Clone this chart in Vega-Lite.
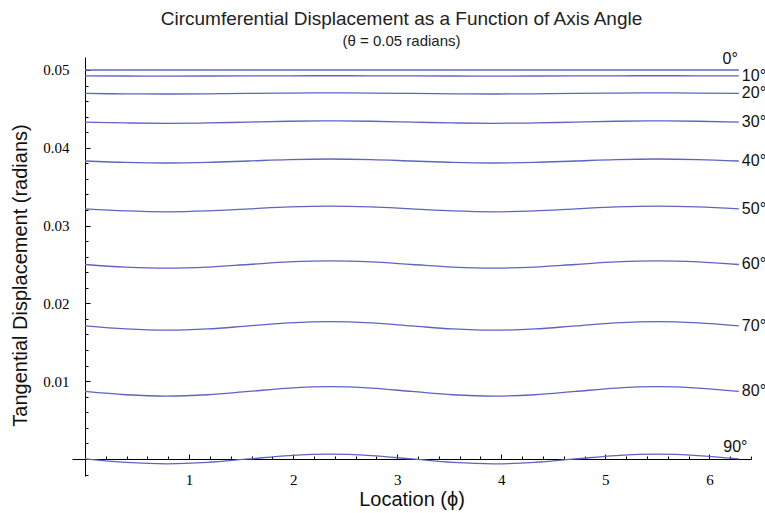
{
  "$schema": "https://vega.github.io/schema/vega-lite/v6.json",
  "width": 679,
  "height": 419,
  "autosize": {"type": "none"},
  "padding": {"left": 72, "top": 57, "right": 14, "bottom": 37},
  "background": "white",
  "title": {
    "text": "Circumferential Displacement as a Function of Axis Angle",
    "subtitle": "(θ = 0.05 radians)",
    "anchor": "middle",
    "font": "Liberation Sans",
    "fontSize": 19,
    "fontWeight": "normal",
    "color": "#222",
    "subtitleFont": "Liberation Sans",
    "subtitleFontSize": 15,
    "subtitleColor": "#222",
    "subtitlePadding": 5,
    "offset": 2,
    "dx": -10
  },
  "config": {
    "view": {"stroke": null},
    "axis": {
      "grid": false,
      "domainColor": "#000",
      "domainWidth": 1,
      "tickColor": "#000",
      "tickWidth": 1,
      "labelColor": "#000",
      "titleColor": "#111",
      "labelFont": "Liberation Serif",
      "labelFontSize": 15,
      "titleFont": "Liberation Sans",
      "titleFontSize": 20,
      "titleFontWeight": "normal"
    }
  },
  "datasets": {
    "curves": [
      {"angle": 0, "phi": 0, "d": 0.05}, {"angle": 0, "phi": 0.3927, "d": 0.05}, {"angle": 0, "phi": 0.7854, "d": 0.05}, {"angle": 0, "phi": 1.1781, "d": 0.05}, {"angle": 0, "phi": 1.5708, "d": 0.05}, {"angle": 0, "phi": 1.9635, "d": 0.05}, {"angle": 0, "phi": 2.3562, "d": 0.05}, {"angle": 0, "phi": 2.7489, "d": 0.05}, {"angle": 0, "phi": 3.1416, "d": 0.05}, {"angle": 0, "phi": 3.5343, "d": 0.05}, {"angle": 0, "phi": 3.927, "d": 0.05}, {"angle": 0, "phi": 4.3197, "d": 0.05}, {"angle": 0, "phi": 4.7124, "d": 0.05}, {"angle": 0, "phi": 5.1051, "d": 0.05}, {"angle": 0, "phi": 5.4978, "d": 0.05}, {"angle": 0, "phi": 5.8905, "d": 0.05}, {"angle": 0, "phi": 6.2832, "d": 0.05},
      {"angle": 10, "phi": 0, "d": 0.04924}, {"angle": 10, "phi": 0.3927, "d": 0.049227}, {"angle": 10, "phi": 0.7854, "d": 0.049221}, {"angle": 10, "phi": 1.1781, "d": 0.049227}, {"angle": 10, "phi": 1.5708, "d": 0.04924}, {"angle": 10, "phi": 1.9635, "d": 0.049253}, {"angle": 10, "phi": 2.3562, "d": 0.049259}, {"angle": 10, "phi": 2.7489, "d": 0.049253}, {"angle": 10, "phi": 3.1416, "d": 0.04924}, {"angle": 10, "phi": 3.5343, "d": 0.049227}, {"angle": 10, "phi": 3.927, "d": 0.049221}, {"angle": 10, "phi": 4.3197, "d": 0.049227}, {"angle": 10, "phi": 4.7124, "d": 0.04924}, {"angle": 10, "phi": 5.1051, "d": 0.049253}, {"angle": 10, "phi": 5.4978, "d": 0.049259}, {"angle": 10, "phi": 5.8905, "d": 0.049253}, {"angle": 10, "phi": 6.2832, "d": 0.04924},
      {"angle": 20, "phi": 0, "d": 0.046985}, {"angle": 20, "phi": 0.3927, "d": 0.046933}, {"angle": 20, "phi": 0.7854, "d": 0.046912}, {"angle": 20, "phi": 1.1781, "d": 0.046933}, {"angle": 20, "phi": 1.5708, "d": 0.046985}, {"angle": 20, "phi": 1.9635, "d": 0.047037}, {"angle": 20, "phi": 2.3562, "d": 0.047058}, {"angle": 20, "phi": 2.7489, "d": 0.047037}, {"angle": 20, "phi": 3.1416, "d": 0.046985}, {"angle": 20, "phi": 3.5343, "d": 0.046933}, {"angle": 20, "phi": 3.927, "d": 0.046912}, {"angle": 20, "phi": 4.3197, "d": 0.046933}, {"angle": 20, "phi": 4.7124, "d": 0.046985}, {"angle": 20, "phi": 5.1051, "d": 0.047037}, {"angle": 20, "phi": 5.4978, "d": 0.047058}, {"angle": 20, "phi": 5.8905, "d": 0.047037}, {"angle": 20, "phi": 6.2832, "d": 0.046985},
      {"angle": 30, "phi": 0, "d": 0.043301}, {"angle": 30, "phi": 0.3927, "d": 0.043191}, {"angle": 30, "phi": 0.7854, "d": 0.043145}, {"angle": 30, "phi": 1.1781, "d": 0.043191}, {"angle": 30, "phi": 1.5708, "d": 0.043301}, {"angle": 30, "phi": 1.9635, "d": 0.043411}, {"angle": 30, "phi": 2.3562, "d": 0.043457}, {"angle": 30, "phi": 2.7489, "d": 0.043411}, {"angle": 30, "phi": 3.1416, "d": 0.043301}, {"angle": 30, "phi": 3.5343, "d": 0.043191}, {"angle": 30, "phi": 3.927, "d": 0.043145}, {"angle": 30, "phi": 4.3197, "d": 0.043191}, {"angle": 30, "phi": 4.7124, "d": 0.043301}, {"angle": 30, "phi": 5.1051, "d": 0.043411}, {"angle": 30, "phi": 5.4978, "d": 0.043457}, {"angle": 30, "phi": 5.8905, "d": 0.043411}, {"angle": 30, "phi": 6.2832, "d": 0.043301},
      {"angle": 40, "phi": 0, "d": 0.038302}, {"angle": 40, "phi": 0.3927, "d": 0.03812}, {"angle": 40, "phi": 0.7854, "d": 0.038044}, {"angle": 40, "phi": 1.1781, "d": 0.03812}, {"angle": 40, "phi": 1.5708, "d": 0.038302}, {"angle": 40, "phi": 1.9635, "d": 0.038484}, {"angle": 40, "phi": 2.3562, "d": 0.03856}, {"angle": 40, "phi": 2.7489, "d": 0.038484}, {"angle": 40, "phi": 3.1416, "d": 0.038302}, {"angle": 40, "phi": 3.5343, "d": 0.03812}, {"angle": 40, "phi": 3.927, "d": 0.038044}, {"angle": 40, "phi": 4.3197, "d": 0.03812}, {"angle": 40, "phi": 4.7124, "d": 0.038302}, {"angle": 40, "phi": 5.1051, "d": 0.038484}, {"angle": 40, "phi": 5.4978, "d": 0.03856}, {"angle": 40, "phi": 5.8905, "d": 0.038484}, {"angle": 40, "phi": 6.2832, "d": 0.038302},
      {"angle": 50, "phi": 0, "d": 0.032139}, {"angle": 50, "phi": 0.3927, "d": 0.03188}, {"angle": 50, "phi": 0.7854, "d": 0.031772}, {"angle": 50, "phi": 1.1781, "d": 0.03188}, {"angle": 50, "phi": 1.5708, "d": 0.032139}, {"angle": 50, "phi": 1.9635, "d": 0.032398}, {"angle": 50, "phi": 2.3562, "d": 0.032506}, {"angle": 50, "phi": 2.7489, "d": 0.032398}, {"angle": 50, "phi": 3.1416, "d": 0.032139}, {"angle": 50, "phi": 3.5343, "d": 0.03188}, {"angle": 50, "phi": 3.927, "d": 0.031772}, {"angle": 50, "phi": 4.3197, "d": 0.03188}, {"angle": 50, "phi": 4.7124, "d": 0.032139}, {"angle": 50, "phi": 5.1051, "d": 0.032398}, {"angle": 50, "phi": 5.4978, "d": 0.032506}, {"angle": 50, "phi": 5.8905, "d": 0.032398}, {"angle": 50, "phi": 6.2832, "d": 0.032139},
      {"angle": 60, "phi": 0, "d": 0.025}, {"angle": 60, "phi": 0.3927, "d": 0.024668}, {"angle": 60, "phi": 0.7854, "d": 0.024531}, {"angle": 60, "phi": 1.1781, "d": 0.024668}, {"angle": 60, "phi": 1.5708, "d": 0.025}, {"angle": 60, "phi": 1.9635, "d": 0.025332}, {"angle": 60, "phi": 2.3562, "d": 0.025469}, {"angle": 60, "phi": 2.7489, "d": 0.025332}, {"angle": 60, "phi": 3.1416, "d": 0.025}, {"angle": 60, "phi": 3.5343, "d": 0.024668}, {"angle": 60, "phi": 3.927, "d": 0.024531}, {"angle": 60, "phi": 4.3197, "d": 0.024668}, {"angle": 60, "phi": 4.7124, "d": 0.025}, {"angle": 60, "phi": 5.1051, "d": 0.025332}, {"angle": 60, "phi": 5.4978, "d": 0.025469}, {"angle": 60, "phi": 5.8905, "d": 0.025332}, {"angle": 60, "phi": 6.2832, "d": 0.025},
      {"angle": 70, "phi": 0, "d": 0.017101}, {"angle": 70, "phi": 0.3927, "d": 0.016711}, {"angle": 70, "phi": 0.7854, "d": 0.016549}, {"angle": 70, "phi": 1.1781, "d": 0.016711}, {"angle": 70, "phi": 1.5708, "d": 0.017101}, {"angle": 70, "phi": 1.9635, "d": 0.017491}, {"angle": 70, "phi": 2.3562, "d": 0.017653}, {"angle": 70, "phi": 2.7489, "d": 0.017491}, {"angle": 70, "phi": 3.1416, "d": 0.017101}, {"angle": 70, "phi": 3.5343, "d": 0.016711}, {"angle": 70, "phi": 3.927, "d": 0.016549}, {"angle": 70, "phi": 4.3197, "d": 0.016711}, {"angle": 70, "phi": 4.7124, "d": 0.017101}, {"angle": 70, "phi": 5.1051, "d": 0.017491}, {"angle": 70, "phi": 5.4978, "d": 0.017653}, {"angle": 70, "phi": 5.8905, "d": 0.017491}, {"angle": 70, "phi": 6.2832, "d": 0.017101},
      {"angle": 80, "phi": 0, "d": 0.008682}, {"angle": 80, "phi": 0.3927, "d": 0.008253}, {"angle": 80, "phi": 0.7854, "d": 0.008076}, {"angle": 80, "phi": 1.1781, "d": 0.008253}, {"angle": 80, "phi": 1.5708, "d": 0.008682}, {"angle": 80, "phi": 1.9635, "d": 0.009111}, {"angle": 80, "phi": 2.3562, "d": 0.009288}, {"angle": 80, "phi": 2.7489, "d": 0.009111}, {"angle": 80, "phi": 3.1416, "d": 0.008682}, {"angle": 80, "phi": 3.5343, "d": 0.008253}, {"angle": 80, "phi": 3.927, "d": 0.008076}, {"angle": 80, "phi": 4.3197, "d": 0.008253}, {"angle": 80, "phi": 4.7124, "d": 0.008682}, {"angle": 80, "phi": 5.1051, "d": 0.009111}, {"angle": 80, "phi": 5.4978, "d": 0.009288}, {"angle": 80, "phi": 5.8905, "d": 0.009111}, {"angle": 80, "phi": 6.2832, "d": 0.008682},
      {"angle": 90, "phi": 0, "d": 0}, {"angle": 90, "phi": 0.3927, "d": -0.000442}, {"angle": 90, "phi": 0.7854, "d": -0.000625}, {"angle": 90, "phi": 1.1781, "d": -0.000442}, {"angle": 90, "phi": 1.5708, "d": 0}, {"angle": 90, "phi": 1.9635, "d": 0.000442}, {"angle": 90, "phi": 2.3562, "d": 0.000625}, {"angle": 90, "phi": 2.7489, "d": 0.000442}, {"angle": 90, "phi": 3.1416, "d": 0}, {"angle": 90, "phi": 3.5343, "d": -0.000442}, {"angle": 90, "phi": 3.927, "d": -0.000625}, {"angle": 90, "phi": 4.3197, "d": -0.000442}, {"angle": 90, "phi": 4.7124, "d": 0}, {"angle": 90, "phi": 5.1051, "d": 0.000442}, {"angle": 90, "phi": 5.4978, "d": 0.000625}, {"angle": 90, "phi": 5.8905, "d": 0.000442}, {"angle": 90, "phi": 6.2832, "d": 0}
    ],
    "sideLabels": [
      {"label": "10°", "phi": 6.2832, "d": 0.04924},
      {"label": "20°", "phi": 6.2832, "d": 0.046985},
      {"label": "30°", "phi": 6.2832, "d": 0.043301},
      {"label": "40°", "phi": 6.2832, "d": 0.038302},
      {"label": "50°", "phi": 6.2832, "d": 0.032139},
      {"label": "60°", "phi": 6.2832, "d": 0.025},
      {"label": "70°", "phi": 6.2832, "d": 0.017101},
      {"label": "80°", "phi": 6.2832, "d": 0.008682}
    ],
    "topLabels": [
      {"label": "0°", "phi": 6.2, "d": 0.0514},
      {"label": "90°", "phi": 6.25, "d": 0.0015}
    ]
  },
  "layer": [
    {
      "data": {"name": "curves"},
      "mark": {"type": "line", "interpolate": "monotone", "color": "#5f64c2", "strokeWidth": 1.3},
      "encoding": {
        "x": {
          "field": "phi", "type": "quantitative",
          "scale": {"domain": [-0.125, 6.4], "nice": false, "zero": false},
          "axis": {
            "orient": "bottom", "offset": -17, "values": [1, 2, 3, 4, 5, 6],
            "tickSize": -5, "labelPadding": 18, "title": "Location (ϕ)", "titlePadding": 2
          }
        },
        "y": {
          "field": "d", "type": "quantitative",
          "scale": {"domain": [-0.00219, 0.05167], "nice": false, "zero": false},
          "axis": {
            "orient": "left", "offset": -13, "values": [0.01, 0.02, 0.03, 0.04, 0.05],
            "format": ".2f", "tickSize": -5, "labelPadding": 21,
            "title": "Tangential Displacement (radians)", "titlePadding": 12, "titleY": 218
          }
        },
        "detail": {"field": "angle", "type": "nominal"}
      }
    },
    {
      "data": {"name": "sideLabels"},
      "mark": {"type": "text", "align": "left", "baseline": "middle", "dx": 3, "font": "Liberation Sans", "fontSize": 16, "color": "#111"},
      "encoding": {
        "x": {"field": "phi", "type": "quantitative", "axis": null},
        "y": {"field": "d", "type": "quantitative", "axis": null},
        "text": {"field": "label"}
      }
    },
    {
      "data": {"name": "topLabels"},
      "mark": {"type": "text", "align": "center", "baseline": "middle", "font": "Liberation Sans", "fontSize": 16, "color": "#111"},
      "encoding": {
        "x": {
          "field": "phi", "type": "quantitative",
          "axis": {
            "orient": "bottom", "offset": -17, "domain": false, "labels": false, "title": null,
            "tickSize": -3,
            "values": [0.2, 0.4, 0.6, 0.8, 1.2, 1.4, 1.6, 1.8, 2.2, 2.4, 2.6, 2.8, 3.2, 3.4, 3.6, 3.8, 4.2, 4.4, 4.6, 4.8, 5.2, 5.4, 5.6, 5.8, 6.2, 6.4]
          }
        },
        "y": {
          "field": "d", "type": "quantitative",
          "axis": {
            "orient": "left", "offset": -13, "domain": false, "labels": false, "title": null,
            "tickSize": -3,
            "values": [-0.002, 0.002, 0.004, 0.006, 0.008, 0.012, 0.014, 0.016, 0.018, 0.022, 0.024, 0.026, 0.028, 0.032, 0.034, 0.036, 0.038, 0.042, 0.044, 0.046, 0.048]
          }
        },
        "text": {"field": "label"}
      }
    }
  ],
  "resolve": {"axis": {"x": "independent", "y": "independent"}}
}
